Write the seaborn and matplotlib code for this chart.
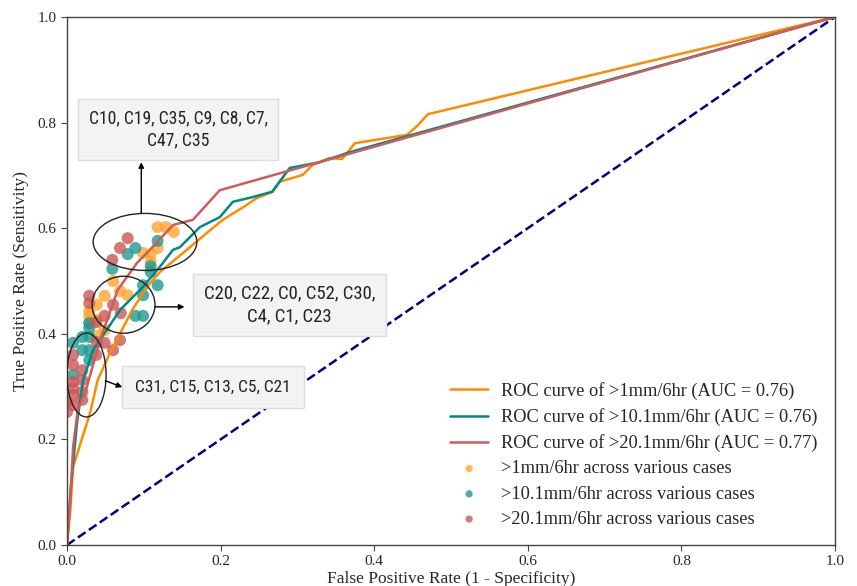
import matplotlib
matplotlib.use("Agg")
import matplotlib.pyplot as plt
from matplotlib.patches import Ellipse
from matplotlib import font_manager as fm
import seaborn as sns
import pandas as pd

# ROC curves
fpr_1 = [0.0, 0.004, 0.008, 0.030, 0.040, 0.056, 0.085, 0.104, 0.121, 0.156, 0.182, 0.203, 0.234, 0.247,
         0.268, 0.277, 0.307, 0.320, 0.342, 0.358, 0.375, 0.443, 0.457, 0.470, 1.0]
tpr_1 = [0.0, 0.060, 0.148, 0.250, 0.3125, 0.364, 0.445, 0.489, 0.517, 0.559, 0.591, 0.616, 0.644, 0.657,
         0.669, 0.688, 0.701, 0.720, 0.733, 0.731, 0.761, 0.777, 0.795, 0.816, 1.0]
fpr_10 = [0.0, 0.005, 0.013, 0.021, 0.034, 0.069, 0.099, 0.121, 0.138, 0.147, 0.173, 0.199, 0.216, 0.242,
          0.267, 0.290, 0.329, 0.368, 1.0]
tpr_10 = [0.0, 0.110, 0.231, 0.3125, 0.369, 0.445, 0.489, 0.527, 0.559, 0.564, 0.602, 0.621, 0.650, 0.659,
          0.669, 0.714, 0.725, 0.744, 1.0]
fpr_20 = [0.0, 0.004, 0.008, 0.014, 0.026, 0.043, 0.066, 0.091, 0.108, 0.138, 0.164, 0.199, 1.0]
tpr_20 = [0.0, 0.080, 0.186, 0.256, 0.300, 0.388, 0.483, 0.534, 0.559, 0.606, 0.616, 0.672, 1.0]

# Case points
pts1_x = [0.118, 0.129, 0.139, 0.118, 0.099, 0.109, 0.109, 0.069, 0.079, 0.049, 0.039, 0.029, 0.029, 0.029,
          0.039, 0.049, 0.039, 0.060]
pts1_y = [0.602, 0.602, 0.593, 0.5625, 0.553, 0.551, 0.536, 0.481, 0.473, 0.472, 0.455, 0.443, 0.434, 0.422,
          0.426, 0.407, 0.396, 0.500]
pts10_x = [0.118, 0.089, 0.079, 0.059, 0.109, 0.109, 0.099, 0.118, 0.099, 0.089, 0.099, 0.029, 0.029, 0.029,
           0.020, 0.008, 0.029, 0.020, 0.008, 0.029]
pts10_y = [0.576, 0.5625, 0.551, 0.523, 0.528, 0.517, 0.492, 0.492, 0.473, 0.434, 0.434, 0.420, 0.411, 0.394,
           0.394, 0.383, 0.369, 0.369, 0.322, 0.350]
pts20_x = [0.079, 0.069, 0.059, 0.029, 0.029, 0.060, 0.070, 0.049, 0.038, 0.069, 0.060, 0.049, 0.039, 0.008,
           0.020, 0.020, 0.008, 0.008, 0.020, 0.020, 0.0, 0.008, 0.0, 0.008, 0.038, 0.008]
pts20_y = [0.581, 0.5625, 0.540, 0.472, 0.458, 0.455, 0.439, 0.434, 0.422, 0.388, 0.369, 0.383, 0.384, 0.341,
           0.331, 0.3125, 0.309, 0.297, 0.290, 0.275, 0.271, 0.265, 0.252, 0.360, 0.360, 0.284]

labels = ["ROC curve of >1mm/6hr (AUC = 0.76)",
          "ROC curve of >10.1mm/6hr (AUC = 0.76)",
          "ROC curve of >20.1mm/6hr (AUC = 0.77)"]
pt_labels = [">1mm/6hr across various cases",
             ">10.1mm/6hr across various cases",
             ">20.1mm/6hr across various cases"]
ticks = [0.0, 0.2, 0.4, 0.6, 0.8, 1.0]
tick_labels = ["0.0", "0.2", "0.4", "0.6", "0.8", "1.0"]

ann_texts = ["C10, C19, C35, C9, C8, C7,\nC47, C35",
             "C20, C22, C0, C52, C30,\nC4, C1, C23",
             "C31, C15, C13, C5, C21"]

sns.set_style("ticks")
plt.rcParams['font.family'] = ['Liberation Serif', 'DejaVu Serif']
plt.rcParams['mathtext.fontset'] = 'stix'

# pick a condensed sans font for the annotation boxes, if one is installed
cond_path = None
prefs = []
for f in fm.fontManager.ttflist:
    nm = f.name.lower()
    st = str(f.stretch).lower()
    is_cond = ("condensed" in st) or ("narrow" in nm) or ("condensed" in nm) or ("condensed" in f.fname.lower())
    if is_cond and f.style == "normal" and str(f.weight) in ("400", "normal", "regular"):
        rank = 0 if "roboto" in nm else (1 if "liberation" in nm else 2)
        prefs.append((rank, f.fname))
if prefs:
    prefs.sort()
    cond_path = prefs[0][1]
if cond_path:
    afp = fm.FontProperties(fname=cond_path)
else:
    afp = fm.FontProperties(family=['Roboto', 'DejaVu Sans'])

line_colors = ["#FF8C00", "#00898A", "#CF5B5B"]
pt_colors = ["#FFA52E", "#1E9A92", "#CD5656"]

fig = plt.figure(figsize=(8.57, 5.86), dpi=100)
ax = fig.add_axes([67/857, 41/586, 768/857, 528/586])

for fx, ty, lab, c in zip([fpr_1, fpr_10, fpr_20], [tpr_1, tpr_10, tpr_20], labels, line_colors):
    df = pd.DataFrame({"x": fx, "y": ty})
    sns.lineplot(data=df, x="x", y="y", sort=False, estimator=None, color=c, lw=1.8, label=lab, ax=ax)

for px, py, lab, c in zip([pts1_x, pts10_x, pts20_x], [pts1_y, pts10_y, pts20_y], pt_labels, pt_colors):
    df = pd.DataFrame({"x": px, "y": py})
    sns.scatterplot(data=df, x="x", y="y", color=c, s=75, alpha=0.8, edgecolor="none", label=lab, ax=ax, zorder=1)

sns.lineplot(x=[0, 1], y=[0, 1], color="navy", lw=1.8, linestyle="--", ax=ax, zorder=1)

ax.set_xlim(0, 1)
ax.set_ylim(0, 1)
ax.set_xticks(ticks)
ax.set_xticklabels(tick_labels)
ax.set_yticks(ticks)
ax.set_yticklabels(tick_labels)
ax.tick_params(labelsize=11, length=4, color="#444444")
for sp in ax.spines.values():
    sp.set_color("#444444")
    sp.set_linewidth(1.0)
ax.set_xlabel("False Positive Rate (1 - Specificity)", fontsize=12.5, labelpad=2)
ax.set_ylabel("True Positive Rate (Sensitivity)", fontsize=12.5, labelpad=6)

# Ellipses
ell_specs = [((0.1016, 0.574), 0.135, 0.108), ((0.0736, 0.455), 0.082, 0.108), ((0.0254, 0.322), 0.051, 0.159)]
for (cx, cy), w, h in ell_specs:
    ax.add_patch(Ellipse((cx, cy), w, h, fill=False, edgecolor="#222222", lw=1.0, zorder=5))

arrow = dict(arrowstyle="-|>", color="black", lw=1.0, mutation_scale=8, shrinkA=0, shrinkB=0)

# annotation boxes: centre, target width of first line (px), padding (px)
ann_pos = [(0.145, 0.787), (0.290, 0.455), (0.190, 0.299)]
ann_w = [178, 172, 155]
ann_pad = [10.5, 11.0, 13.5]
renderer = fig.canvas.get_renderer()
for t, (cx, cy), tw, pp in zip(ann_texts, ann_pos, ann_w, ann_pad):
    fp = afp.copy()
    fp.set_size(15)
    probe = fig.text(0, 0, t.split("\n")[0], fontproperties=fp)
    w = probe.get_window_extent(renderer).width
    probe.remove()
    size = min(15, 15 * tw / w)
    fp.set_size(size)
    pad = (pp * 0.72) / size
    box = dict(boxstyle="square,pad=%.3f" % pad, facecolor="#F3F3F3", edgecolor="#DDDDDD", lw=1.0)
    ax.text(cx, cy, t, ha="center", va="center", fontproperties=fp,
            color="#222222", bbox=box, linespacing=1.3, zorder=6)

ax.annotate("", xy=(0.0967, 0.725), xytext=(0.0967, 0.628), arrowprops=arrow, zorder=6)
ax.annotate("", xy=(0.153, 0.451), xytext=(0.1146, 0.451), arrowprops=arrow, zorder=6)
ax.annotate("", xy=(0.072, 0.299), xytext=(0.050, 0.311), arrowprops=arrow, zorder=6)

leg = ax.legend(loc="lower right", bbox_to_anchor=(0.994, 0.008), frameon=False, fontsize=13.2,
                handlelength=2.1, handletextpad=0.7, labelspacing=0.45, markerscale=0.6, borderaxespad=0.3)

fig.savefig("out.png", dpi=100)
